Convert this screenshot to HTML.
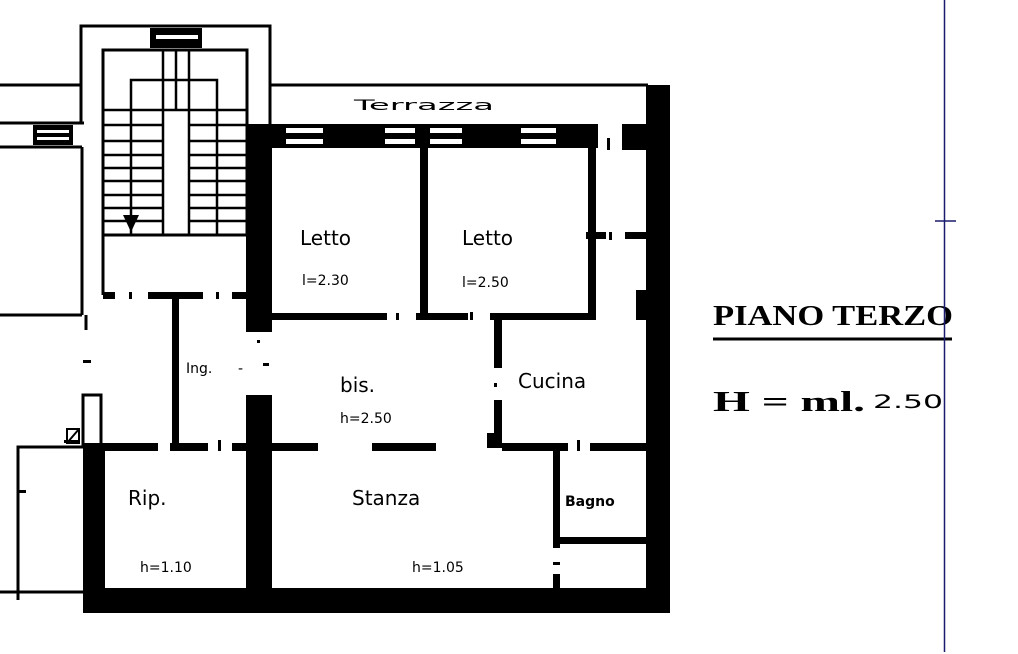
<!DOCTYPE html>
<html><head><meta charset="utf-8"><style>
html,body{margin:0;padding:0;background:#fff;width:1018px;height:654px;overflow:hidden}
svg{display:block}
.h{font-family:"DejaVu Sans","Liberation Sans",sans-serif;font-size:20px;fill:#000}
.s{font-family:"DejaVu Sans","Liberation Sans",sans-serif;font-size:14px;fill:#000}
</style></head><body>
<svg width="1018" height="654" viewBox="0 0 1018 654" xmlns="http://www.w3.org/2000/svg">
<g fill="none" stroke="#000" stroke-width="3">
 <line x1="0" y1="85" x2="81" y2="85"/>
 <line x1="0" y1="123" x2="84" y2="123"/>
 <line x1="0" y1="147" x2="82" y2="147"/>
 <line x1="82" y1="147" x2="82" y2="315"/>
 <line x1="0" y1="315" x2="82" y2="315"/>
 <polyline points="81,123 81,26 270,26 270,124"/>
 <line x1="86" y1="315" x2="86" y2="330"/>
 <rect x="103" y="50" width="144" height="185"/>
 <polyline points="131,235 131,80 217,80 217,235" stroke-width="2.5"/>
 <line x1="163" y1="50" x2="163" y2="235" stroke-width="2.5"/>
 <line x1="189" y1="50" x2="189" y2="235" stroke-width="2.5"/>
 <line x1="176" y1="50" x2="176" y2="110" stroke-width="2.5"/>
 <line x1="163" y1="110" x2="189" y2="110" stroke-width="2.5"/>
 <line x1="103" y1="235" x2="103" y2="295"/>
 <line x1="270" y1="85" x2="648" y2="85"/>
 <polyline points="18,600 18,447 83,447"/>
 <line x1="0" y1="592" x2="83" y2="592"/>
 <rect x="83" y="395" width="18" height="50"/>
</g>
<g stroke="#000" stroke-width="2.5">
 <line x1="103" y1="110" x2="163" y2="110"/><line x1="189" y1="110" x2="247" y2="110"/>
 <line x1="103" y1="125" x2="163" y2="125"/><line x1="189" y1="125" x2="247" y2="125"/>
 <line x1="103" y1="141" x2="163" y2="141"/><line x1="189" y1="141" x2="247" y2="141"/>
 <line x1="103" y1="155" x2="163" y2="155"/><line x1="189" y1="155" x2="247" y2="155"/>
 <line x1="103" y1="168" x2="163" y2="168"/><line x1="189" y1="168" x2="247" y2="168"/>
 <line x1="103" y1="181" x2="163" y2="181"/><line x1="189" y1="181" x2="247" y2="181"/>
 <line x1="103" y1="195" x2="163" y2="195"/><line x1="189" y1="195" x2="247" y2="195"/>
 <line x1="103" y1="208" x2="163" y2="208"/><line x1="189" y1="208" x2="247" y2="208"/>
 <line x1="103" y1="221" x2="163" y2="221"/><line x1="189" y1="221" x2="247" y2="221"/>
</g>
<g fill="#000">
 <polygon points="123,215 139,215 131,232"/>
 <rect x="150" y="28" width="52" height="20"/>
 <rect x="156" y="35" width="42" height="4" fill="#fff"/>
 <rect x="33" y="125" width="40" height="20"/>
 <rect x="37" y="130" width="32" height="3" fill="#fff"/><rect x="37" y="137" width="32" height="3" fill="#fff"/>
 <rect x="103" y="292" width="12" height="7"/><rect x="148" y="292" width="55" height="7"/><rect x="232" y="292" width="16" height="7"/>
 <rect x="129" y="292" width="3" height="7"/><rect x="216" y="292" width="3" height="7"/>
 <rect x="172" y="292" width="7" height="153"/>
 <rect x="246" y="124" width="26" height="208"/>
 <rect x="246" y="124" width="352" height="24"/>
 <g fill="#fff">
  <rect x="286" y="128" width="37" height="5"/><rect x="286" y="139" width="37" height="5"/>
  <rect x="385" y="128" width="30" height="5"/><rect x="385" y="139" width="30" height="5"/>
  <rect x="430" y="128" width="32" height="5"/><rect x="430" y="139" width="32" height="5"/>
  <rect x="521" y="128" width="35" height="5"/><rect x="521" y="139" width="35" height="5"/>
 </g>
 <rect x="607" y="138" width="3" height="12"/>
 <rect x="622" y="124" width="26" height="26"/>
 <rect x="420" y="148" width="8" height="172"/>
 <rect x="588" y="148" width="8" height="170"/>
 <rect x="272" y="313" width="115" height="7"/><rect x="396" y="313" width="3" height="7"/>
 <rect x="416" y="313" width="52" height="7"/><rect x="470" y="312" width="3" height="8"/>
 <rect x="490" y="313" width="106" height="7"/>
 <rect x="586" y="232" width="20" height="7"/><rect x="609" y="232" width="3" height="8"/><rect x="625" y="232" width="23" height="7"/>
 <rect x="646" y="85" width="24" height="528"/>
 <rect x="636" y="290" width="12" height="30"/>
 <rect x="494" y="320" width="8" height="48"/><rect x="494" y="383" width="3" height="4"/>
 <rect x="494" y="400" width="8" height="48"/><rect x="487" y="433" width="15" height="15"/>
 <rect x="257" y="340" width="3" height="3"/><rect x="263" y="363" width="6" height="3"/>
 <rect x="246" y="395" width="26" height="217"/>
 <rect x="83" y="443" width="75" height="8"/><rect x="170" y="443" width="38" height="8"/>
 <rect x="218" y="440" width="3" height="11"/><rect x="232" y="443" width="40" height="8"/>
 <rect x="272" y="443" width="46" height="8"/><rect x="372" y="443" width="64" height="8"/>
 <rect x="502" y="443" width="66" height="8"/><rect x="577" y="440" width="3" height="11"/><rect x="590" y="443" width="56" height="8"/>
 <rect x="83" y="443" width="22" height="170"/>
 <rect x="83" y="588" width="587" height="25"/>
 <rect x="553" y="451" width="7" height="97"/><rect x="553" y="562" width="7" height="3"/><rect x="553" y="574" width="7" height="16"/>
 <rect x="560" y="537" width="86" height="7"/>
 <rect x="64" y="440" width="16" height="3"/><rect x="18" y="490" width="8" height="3"/>
 <rect x="83" y="360" width="8" height="3"/>
</g>
<g stroke="#000" stroke-width="2" fill="none">
 <rect x="67" y="429" width="12" height="14"/><line x1="67" y1="443" x2="79" y2="429"/>
</g>
<text x="354" y="110" class="s" font-size="15" textLength="140" lengthAdjust="spacingAndGlyphs">Terrazza</text>
<text x="300" y="245" class="h" font-size="26">Letto</text>
<text x="302" y="285" class="s">l=2.30</text>
<text x="462" y="245" class="h" font-size="26">Letto</text>
<text x="462" y="287" class="s">l=2.50</text>
<text x="186" y="373" class="s" font-size="16">Ing.</text>
<text x="238" y="373" class="s">-</text>
<text x="340" y="392" class="h" font-size="24">bis.</text>
<text x="340" y="423" class="s">h=2.50</text>
<text x="518" y="388" class="h">Cucina</text>
<text x="128" y="505" class="h" font-size="24">Rip.</text>
<text x="352" y="505" class="h">Stanza</text>
<text x="565" y="506" class="s" font-size="15" font-weight="bold">Bagno</text>
<text x="140" y="572" class="s">h=1.10</text>
<text x="412" y="572" class="s">h=1.05</text>
<text x="713" y="325" font-family="'Liberation Serif',serif" font-weight="bold" font-size="28" textLength="240" lengthAdjust="spacingAndGlyphs">PIANO TERZO</text>
<line x1="713" y1="339" x2="952" y2="339" stroke="#000" stroke-width="3"/>
<text x="713" y="411" font-family="'Liberation Serif',serif" font-weight="bold" font-size="28" textLength="152" lengthAdjust="spacingAndGlyphs">H = ml.</text>
<text x="873" y="408" font-family="'DejaVu Sans',sans-serif" font-size="19" textLength="70" lengthAdjust="spacingAndGlyphs">2.50</text>
<line x1="944.5" y1="0" x2="944.5" y2="652" stroke="#1a1a6e" stroke-width="1.5"/>
<line x1="935" y1="221" x2="956" y2="221" stroke="#1a1a6e" stroke-width="1.5"/>
</svg>
</body></html>
